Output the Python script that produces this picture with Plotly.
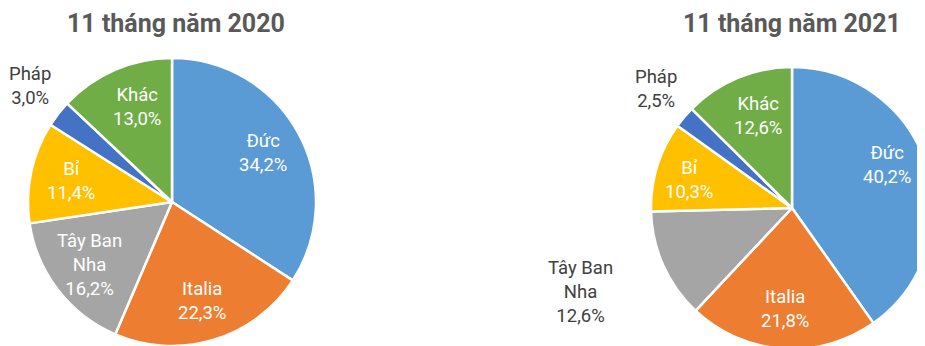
import math
import plotly.graph_objects as go

W, H = 925, 346
OFF = 8  # page body margin in the viewer

categories = ["Đức", "Italia", "Tây Ban Nha", "Bỉ", "Pháp", "Khác"]
label_lines = ["Đức", "Italia", "Tây Ban<br>Nha", "Bỉ", "Pháp", "Khác"]
values_2020 = [34.2, 22.3, 16.2, 11.4, 3.0, 13.0]
values_2021 = [40.2, 21.8, 12.6, 10.3, 2.5, 12.6]
titles = ["11 tháng năm 2020", "11 tháng năm 2021"]
colors = ["#5B9BD5", "#ED7D31", "#A5A5A5", "#FFC000", "#4472C4", "#70AD47"]

FONT = "Roboto"
LABEL_SIZE = 18.5


def fmt(v):
    return f"{v:.1f}".replace(".", ",") + "%"


# pie geometry (screen px): center x, center y, radius
pies = [
    dict(values=values_2020, cx=172, cy=202, r=144, title=titles[0], tx=176,
         outside={"Pháp": (30, 86)}, nudge={"Khác": (6, 0)}),
    dict(values=values_2021, cx=792, cy=208, r=141, title=titles[1], tx=792,
         outside={"Pháp": (656, 89), "Tây Ban Nha": (580, 292)},
         nudge={"Đức": (-2, -12), "Khác": (5, 2), "Bỉ": (-6, 2)}),
]


def px2paper(x, y):
    return (x - OFF) / W, 1 - (y - OFF) / H


fig = go.Figure()
annotations = []
for p in pies:
    x0, y1 = px2paper(p["cx"] - p["r"], p["cy"] - p["r"])
    x1, y0 = px2paper(p["cx"] + p["r"], p["cy"] + p["r"])
    x0, x1 = max(0, x0), min(1, x1)
    y0, y1 = max(0, y0), min(1, y1)
    fig.add_trace(go.Pie(
        labels=categories, values=p["values"], sort=False, direction="clockwise",
        rotation=0, marker=dict(colors=colors, line=dict(color="white", width=2.5)),
        textinfo="none", hoverinfo="label+percent", showlegend=False,
        domain=dict(x=[x0, x1], y=[y0, y1]),
    ))
    total = sum(p["values"])
    cum = 0.0
    for cat, lines, v in zip(categories, label_lines, p["values"]):
        mid = (cum + v / 2) / total * 2 * math.pi
        cum += v
        text = f"{lines}<br>{fmt(v)}"
        if cat in p["outside"]:
            px, py = p["outside"][cat]
            color = "#404040"
        else:
            k = 0.72
            dx, dy = p["nudge"].get(cat, (0, 0))
            px = p["cx"] + k * p["r"] * math.sin(mid) + dx
            py = p["cy"] - k * p["r"] * math.cos(mid) + dy
            color = "white"
        ax, ay = px2paper(px, py)
        annotations.append(dict(
            x=ax, y=ay, xref="paper", yref="paper", text=text,
            showarrow=False, xanchor="center", yanchor="middle",
            font=dict(family=FONT, size=LABEL_SIZE, color=color), align="center",
        ))
    tx, _ = px2paper(p["tx"], 0)
    annotations.append(dict(
        x=tx, y=1, xref="paper", yref="paper",
        text=f"<b>{p['title']}</b>", showarrow=False, xanchor="center", yanchor="top",
        borderpad=0, font=dict(family=FONT, size=25, color="#595959"),
    ))

fig.update_layout(
    width=W, height=H, margin=dict(l=0, r=0, t=0, b=0),
    paper_bgcolor="white", plot_bgcolor="white",
    annotations=annotations, font=dict(family=FONT),
)

fig.write_html("out.html")
